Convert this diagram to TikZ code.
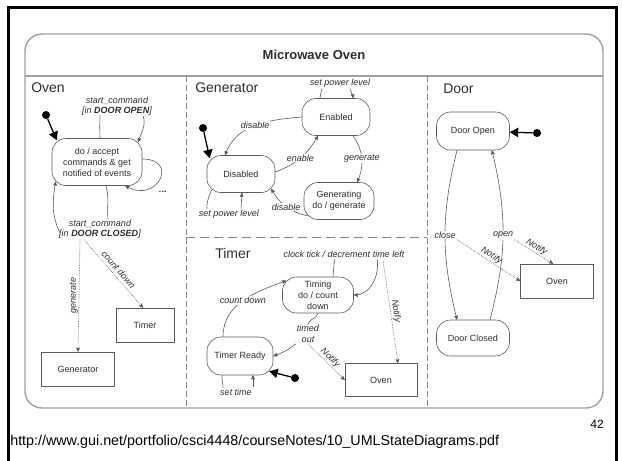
\documentclass[tikz,border=0pt]{standalone}
\usepackage{fontspec}
\setmainfont{Liberation Sans}
\usetikzlibrary{arrows,positioning}

\definecolor{ink}{RGB}{90,90,90}
\definecolor{txt}{RGB}{45,45,45}
\definecolor{rim}{RGB}{160,160,160}
\definecolor{sep}{RGB}{135,135,135}

\newcommand{\statefont}{\fontsize{9}{11}\selectfont}
\newcommand{\labelfont}{\fontsize{9}{10.5}\selectfont\itshape}
\newcommand{\partfont}{\fontsize{14}{16}\selectfont}

\begin{document}
\begin{tikzpicture}[x=1pt,y=-1pt,>=stealth',semithick,ink,
    every node/.style={text=txt},
    state/.style={draw=ink,rectangle,rounded corners=14pt,align=center,inner sep=0pt,
                  minimum width=68pt,minimum height=37pt,font=\statefont},
    box/.style={draw=ink,rectangle,inner sep=0pt,minimum width=73pt,minimum height=34pt,font=\statefont},
    dot/.style={fill=black,circle,inner sep=0pt,minimum size=8pt},
    init/.style={-triangle 60,black,line width=1.3pt},
    trans/.style={->},
    notify/.style={densely dotted},
    lbl/.style={font=\labelfont,inner sep=1pt,align=center},
    cut/.style={lbl,fill=white},
    part/.style={font=\partfont,anchor=west,inner sep=0pt}]

  \useasboundingbox (0,0) rectangle (622,461);

  % slide frame and the composite state
  \draw[black,line width=3pt] (8,461) -- (8,7) -- (616,7) -- (616,461);
  \draw[rim,line width=1.4pt,rounded corners=17pt] (25,34) rectangle (603,408);
  \draw[rim,line width=1.4pt] (25,76) -- (603,76);
  \draw[sep,line width=0.9pt,dash pattern=on 6pt off 3pt] (186,76) -- (186,408);
  \draw[sep,line width=0.9pt,dash pattern=on 6pt off 3pt] (427,76) -- (427,408);
  \draw[sep,line width=0.9pt,dash pattern=on 9pt off 5pt] (186,237) -- (427,237);
  \node[font=\bfseries\fontsize{13}{15}\selectfont] (title) at (314,55) {Microwave Oven};

  % Oven
  \node[part]                     (oven) at (31,88)   {Oven};
  \node[dot]                      (i1)   at (46,115)  {};
  \node[state,minimum width=90pt,minimum height=47pt] (idle) at (97,162) {do / accept\\commands \& get\\notified of events};
  \node[lbl]                      (sc1)  at (117,106) {start\_command\\{}[in \textbf{DOOR OPEN}]};
  \node[lbl]                      (sc2)  at (100,229) {start\_command\\{}[in \textbf{DOOR CLOSED}]};
  \node[lbl,font=\labelfont\bfseries] (more) at (163,192) {...};
  \node[box]                      (gbox) at (78,369)  {Generator};
  \node[box,minimum width=58pt]   (tbox) at (145,325) {Timer};

  \draw[init] (i1) -- ([shift={(5,2)}]idle.north west);
  \draw ([shift={(3,0)}]idle.north) to[out=92,in=-92] ([shift={(-17,-1)}]sc1.south);
  \draw[trans] ([shift={(26,-1)}]sc1.south) to[out=-70,in=75] ([shift={(-4,4)}]idle.north east);
  \draw[trans] ([shift={(0,-3)}]idle.east) to[out=0,in=-30,looseness=3] ([shift={(-17,0)}]idle.south east);
  \draw ([shift={(9,0)}]idle.south) to[out=-75,in=95] ([shift={(8,1)}]sc2.north);
  \draw[trans] ([shift={(2,4)}]sc2.west) to[out=115,in=-100] ([shift={(4,-4)}]idle.south west);
  \path ([shift={(-20,0)}]sc2.south) edge[trans,notify] node[lbl,rotate=90,above] {generate} (gbox.north);
  \path ([shift={(-16,0)}]sc2.south) edge[trans,notify] node[lbl,sloped,above=2pt] {count down} ([shift={(-2,0)}]tbox.north);

  % Generator
  \node[part]                     (gen)  at (195,88)  {Generator};
  \node[dot]                      (i2)   at (203,128) {};
  \node[state]                    (dis)  at (241,174) {Disabled};
  \node[state]                    (en)   at (336,117) {Enabled};
  \node[state,minimum width=70pt] (gon)  at (339,201) {Generating\\do / generate};
  \node[lbl]                      (spl1) at (340,83)  {set power level};
  \node[lbl]                      (spl2) at (229,214) {set power level};

  \draw[init] (i2) -- ([shift={(3,3)}]dis.north west);
  \draw ([shift={(-16,0)}]en.north) to[out=95,in=-95] ([shift={(-18,0)}]spl1.south);
  \draw[trans] ([shift={(10,0)}]spl1.south) to[out=-75,in=95] ([shift={(17,0)}]en.north);
  \path (en.west) edge[trans,out=185,in=70] node[cut] {disable} ([shift={(-16,0)}]dis.north);
  \path ([shift={(0,-2)}]dis.east) edge[trans,bend right=20] node[cut] {enable} ([shift={(-18,0)}]en.south);
  \path ([shift={(17,0)}]en.south) edge[trans,bend left=30] node[cut] {generate} ([shift={(18,0)}]gon.north);
  \path ([shift={(4,-4)}]gon.south west) edge[trans,bend left=25] node[cut] {disable} ([shift={(-4,-4)}]dis.south east);
  \draw ([shift={(5,-3)}]dis.south west) to[out=-110,in=95] ([shift={(-22,0)}]spl2.north);
  \draw[trans] ([shift={(12,0)}]spl2.north) to[out=85,in=-95] ([shift={(1,0)}]dis.south);

  % Timer
  \node[part]                     (timer) at (215,253) {Timer};
  \node[lbl]                      (ctk)   at (344,254) {clock tick / decrement time left};
  \node[state,minimum width=71pt,minimum height=36pt] (tng) at (318,295) {Timing\\do / count\\down};
  \node[state,minimum width=66pt,minimum height=38pt] (rdy) at (240,356) {Timer Ready};
  \node[lbl]                      (tout)  at (308,334) {timed\\out};
  \node[lbl]                      (stm)   at (236,392) {set time};
  \node[dot]                      (i3)    at (295,378) {};
  \node[box,minimum width=72pt,minimum height=33pt] (tov) at (381,380) {Oven};

  \draw ([shift={(15,0)}]tng.north) to[out=85,in=-100] ([shift={(-9,0)}]ctk.south);
  \draw[trans] ([shift={(33,0)}]ctk.south) to[out=-80,in=0] (tng.east);
  \path ([shift={(-17,0)}]rdy.north) edge[trans,out=90,in=200] node[cut] {count down} ([shift={(4,4)}]tng.north west);
  \draw (tng.south) to[out=-100,in=80] (tout.north);
  \draw[trans] (tout.south west) to[bend left=10] (rdy.east);
  \draw[init] (i3) -- ([shift={(-4,-4)}]rdy.south east);
  \draw ([shift={(-18,0)}]rdy.south) to[out=-95,in=90] ([shift={(-13,0)}]stm.north);
  \draw[trans] ([shift={(17,0)}]stm.north) -- ([shift={(13,0)}]rdy.south);
  \path (tout.south) edge[trans,notify] node[lbl,sloped,above] {Notify} (tov.west);
  \path ([shift={(39,2)}]ctk.south) edge[trans,notify] node[lbl,sloped,above] {Notify} ([shift={(17,0)}]tov.north);

  % Door
  \node[part]                     (door) at (443,89)  {Door};
  \node[state,minimum width=73pt,minimum height=38pt] (dop) at (473,131) {Door Open};
  \node[state,minimum width=73pt,minimum height=36pt] (dcl) at (473,338) {Door Closed};
  \node[dot]                      (i4)   at (537,133) {};
  \node[box]                      (dov)  at (557,281) {Oven};

  \draw[init] (i4) -- (dop);
  \path ([shift={(-16,0)}]dop.south) edge[trans,bend right=14] node[cut] (cls) {close} ([shift={(-16,0)}]dcl.north);
  \path ([shift={(17,0)}]dcl.north) edge[trans,bend right=14] node[cut] (opn) {open} ([shift={(19,0)}]dop.south);
  \path (cls.south east) edge[trans,notify] node[lbl,sloped,above] {Notify} (dov.west);
  \path (opn.south east) edge[trans,notify] node[lbl,sloped,above] {Notify} ([shift={(-4,0)}]dov.north);

  % footer
  \node[text=black,font=\fontsize{12}{14}\selectfont] (pg) at (597,424) {42};
  \node[text=black,font=\fontsize{14.3}{16}\selectfont,anchor=west,inner sep=0pt] (url) at (10,442)
       {http://www.gui.net/portfolio/csci4448/courseNotes/10\_UMLStateDiagrams.pdf};
\end{tikzpicture}
\end{document}
